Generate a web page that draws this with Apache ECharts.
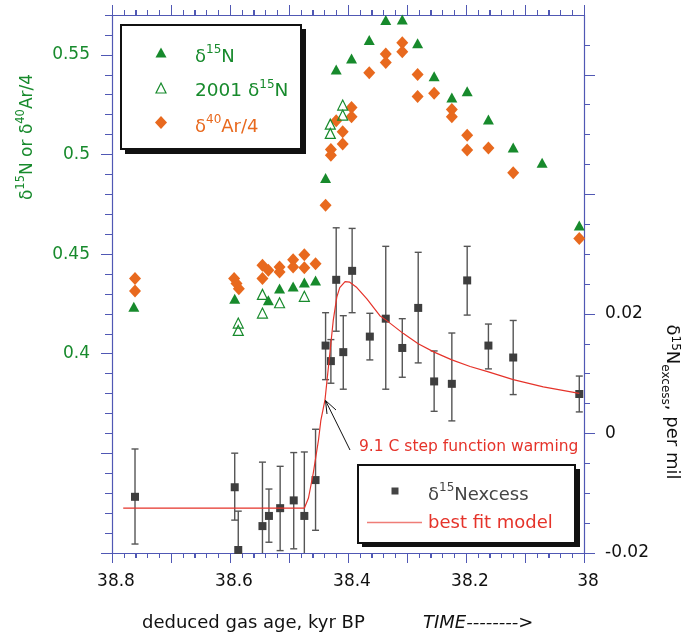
<!DOCTYPE html>
<html><head><meta charset="utf-8">
<script src="https://cdn.jsdelivr.net/npm/echarts@6/dist/echarts.min.js"></script>
<style>html,body{margin:0;padding:0;background:#fff}#c{width:691px;height:637px}</style>
</head><body><div id="c"></div>
<script>
// ---- data ----
const n15Age = [38.763, 38.592, 38.535, 38.516, 38.493, 38.474, 38.455, 38.438, 38.420, 38.394, 38.364, 38.336, 38.308, 38.282, 38.254, 38.224, 38.198, 38.162, 38.120, 38.071, 38.008];
const n15Val = [0.4236, 0.4276, 0.4268, 0.4327, 0.4338, 0.4357, 0.4367, 0.4882, 0.5427, 0.5482, 0.5574, 0.5675, 0.5678, 0.5558, 0.5393, 0.5286, 0.5317, 0.5176, 0.5035, 0.4958, 0.4643];

const n2001Age = [38.586, 38.586, 38.545, 38.545, 38.516, 38.474, 38.430, 38.430, 38.409, 38.409];
const n2001Val = [0.4154, 0.4117, 0.4298, 0.4204, 0.4256, 0.4288, 0.5152, 0.5106, 0.5248, 0.5198];

const arAge = [38.761, 38.761, 38.593, 38.589, 38.585, 38.545, 38.545, 38.535, 38.516, 38.516, 38.493, 38.493, 38.474, 38.474, 38.455, 38.438, 38.429, 38.429, 38.420, 38.409, 38.409, 38.394, 38.394, 38.364, 38.336, 38.336, 38.308, 38.308, 38.282, 38.282, 38.254, 38.224, 38.224, 38.198, 38.198, 38.162, 38.120, 38.008];
const arVal = [0.4377, 0.4315, 0.4377, 0.4352, 0.4326, 0.4444, 0.4377, 0.4419, 0.4435, 0.4410, 0.4472, 0.4435, 0.4497, 0.4432, 0.4452, 0.4745, 0.5025, 0.4996, 0.5169, 0.5114, 0.5052, 0.5236, 0.5189, 0.5410, 0.5504, 0.5462, 0.5561, 0.5516, 0.5402, 0.5291, 0.5307, 0.5226, 0.5189, 0.5097, 0.5022, 0.5033, 0.4908, 0.4578];

const exAge  = [38.761, 38.592, 38.586, 38.545, 38.534, 38.515, 38.492, 38.474, 38.455, 38.438, 38.429, 38.420, 38.408, 38.393, 38.363, 38.336, 38.308, 38.281, 38.254, 38.224, 38.198, 38.162, 38.120, 38.008];
const exVal  = [-0.0106, -0.0090, -0.0195, -0.0155, -0.0138, -0.0125, -0.0112, -0.0138, -0.0078, 0.0147, 0.0121, 0.0257, 0.0136, 0.0272, 0.0162, 0.0192, 0.0143, 0.0210, 0.0087, 0.0083, 0.0256, 0.0147, 0.0127, 0.0066];
const exLow  = [-0.0185, -0.0145, -0.0260, -0.0262, -0.0182, -0.0196, -0.0193, -0.0245, -0.0162, 0.0090, 0.0084, 0.0171, 0.0074, 0.0202, 0.0123, 0.0074, 0.0094, 0.0118, 0.0037, 0.0021, 0.0198, 0.0108, 0.0065, 0.0036];
const exHigh = [-0.0026, -0.0033, -0.0130, -0.0048, -0.0093, -0.0055, -0.0032, -0.0031, 0.0007, 0.0202, 0.0157, 0.0344, 0.0197, 0.0343, 0.0201, 0.0313, 0.0192, 0.0303, 0.0138, 0.0168, 0.0313, 0.0183, 0.0189, 0.0096];

const modelAge = [38.781, 38.474, 38.467, 38.459, 38.450, 38.446, 38.439, 38.425, 38.419, 38.414, 38.405, 38.397, 38.385, 38.368, 38.346, 38.336, 38.306, 38.281, 38.254, 38.224, 38.193, 38.162, 38.120, 38.069, 38.008];
const modelVal = [-0.0125, -0.0125, -0.0108, -0.0067, -0.0011, 0.0022, 0.0056, 0.0189, 0.0228, 0.0244, 0.0254, 0.0253, 0.0244, 0.0225, 0.0197, 0.0190, 0.0167, 0.0150, 0.0136, 0.0123, 0.0112, 0.0103, 0.0090, 0.0078, 0.0067];

// ticks and tick labels
const xMajor = [38.0, 38.1, 38.2, 38.3, 38.4, 38.5, 38.6, 38.7, 38.8];
const xMinor = [38.02,38.04,38.06,38.08,38.12,38.14,38.16,38.18,38.22,38.24,38.26,38.28,38.32,38.34,38.36,38.38,
                38.42,38.44,38.46,38.48,38.52,38.54,38.56,38.58,38.62,38.64,38.66,38.68,38.72,38.74,38.76,38.78];
const xLabelVals = [38.0, 38.2, 38.4, 38.6, 38.8];
const xLabelText = ['38', '38.2', '38.4', '38.6', '38.8'];
const leftMajor = [0.30, 0.35, 0.40, 0.45, 0.50, 0.55];
const leftMinor = [0.31,0.32,0.33,0.34,0.36,0.37,0.38,0.39,0.41,0.42,0.43,0.44,0.46,0.47,0.48,0.49,0.51,0.52,0.53,0.54,0.56,0.57];
const leftLabelVals = [0.40, 0.45, 0.50, 0.55];
const leftLabelText = ['0.4', '0.45', '0.5', '0.55'];
const rightMajor = [-0.02, 0.0, 0.02, 0.04, 0.06];
const rightMinor = [-0.015,-0.01,-0.005,0.005,0.01,0.015,0.025,0.03,0.035,0.045,0.05,0.055,0.065];
const rightLabelVals = [-0.02, 0.0, 0.02];
const rightLabelText = ['-0.02', '0', '0.02'];

// ---- styling ----
const AX = '#5058b4';
const GREEN = '#178a2c';
const ORANGE = '#e8691e';
const RED = '#e5332a';
const FONT = 'DejaVu Sans';

function fmt(vals, texts) {
  return function (v) {
    for (let i = 0; i < vals.length; i++) if (Math.abs(v - vals[i]) < 1e-6) return texts[i];
    return '';
  };
}
const zip = (a, b) => a.map((v, i) => [v, b[i]]);

const chart = echarts.init(document.getElementById('c'), null, {renderer: 'canvas'});

const lineOn = {show: true, onZero: false, lineStyle: {color: AX, width: 1.2}};
const lineOff = {show: false, onZero: false};
const xTick = {show: true, inside: false, length: 10, lineStyle: {color: AX, width: 1}};
const xMinorTick = {show: true, splitNumber: 5, length: 5, lineStyle: {color: AX, width: 1}};
const option = {
  animation: false,
  backgroundColor: '#fff',
  grid: {left: 112, right: 107, top: 15, bottom: 84, containLabel: false},
  xAxis: [
    {type: 'value', min: 38.0, max: 38.8, interval: 0.1, inverse: true, position: 'bottom', splitLine: {show: false},
      axisLine: lineOn, axisTick: xTick, minorTick: xMinorTick,
      axisLabel: {show: true, margin: 20, color: '#111', fontSize: 17, fontFamily: FONT, padding: [0, 0, 0, 8],
        formatter: fmt(xLabelVals, xLabelText), showMinLabel: true, showMaxLabel: true}},
    {type: 'value', min: 38.0, max: 38.8, interval: 0.1, inverse: true, position: 'top', splitLine: {show: false},
      axisLine: lineOn, axisTick: xTick, minorTick: xMinorTick,
      axisLabel: {show: true, color: 'rgba(0,0,0,0)', formatter: () => ''}}
  ],
  yAxis: [
    {type: 'value', position: 'left', min: 0.30, max: 0.57, interval: 0.05, splitLine: {show: false}, axisLine: lineOn,
      axisTick: {show: true, length: 11, customValues: leftMajor, lineStyle: {color: AX}},
      axisLabel: {show: true, customValues: leftLabelVals, margin: 22, color: GREEN, fontSize: 17, fontFamily: FONT,
        formatter: fmt(leftLabelVals, leftLabelText)}},
    {type: 'value', position: 'left', min: 0.30, max: 0.57, interval: 0.01, splitLine: {show: false}, axisLine: lineOff,
      axisTick: {show: true, length: 7, customValues: leftMinor, lineStyle: {color: AX}},
      axisLabel: {show: false}},
    {type: 'value', position: 'right', min: -0.02, max: 0.07, interval: 0.02, splitLine: {show: false}, axisLine: lineOn,
      axisTick: {show: true, length: 11, customValues: rightMajor, lineStyle: {color: AX}},
      axisLabel: {show: true, customValues: rightLabelVals, margin: 21, color: '#111', fontSize: 17, fontFamily: FONT,
        formatter: fmt(rightLabelVals, rightLabelText)}},
    {type: 'value', position: 'right', min: -0.02, max: 0.07, interval: 0.005, splitLine: {show: false}, axisLine: lineOff,
      axisTick: {show: true, length: 6, customValues: rightMinor, lineStyle: {color: AX}},
      axisLabel: {show: false}}
  ],
  series: [
    // x-axis tick marks drawn through the x scale (bottom pointing down, top pointing up)
    {name: 'xticks', type: 'custom', xAxisIndex: 0, yAxisIndex: 0, clip: false, silent: true, z: 1,
      encode: {x: 0, y: 1},
      data: xMajor.map(v => [v, 0.4, 10]).concat(xMinor.map(v => [v, 0.4, 5])),
      renderItem: function (params, api) {
        const cs = params.coordSys;
        const len = api.value(2);
        const x = Math.round(api.coord([api.value(0), api.value(1)])[0]) + 0.5;
        const yb = cs.y + cs.height, yt = cs.y;
        const st = {stroke: AX, lineWidth: 1};
        return {type: 'group', children: [
          {type: 'line', shape: {x1: x, y1: yb, x2: x, y2: yb + len}, style: st},
          {type: 'line', shape: {x1: x, y1: yt, x2: x, y2: yt - len}, style: st}
        ]};
      }},
    {name: 'δ15N', type: 'scatter', xAxisIndex: 0, yAxisIndex: 0, symbol: 'triangle', symbolSize: [11, 10],
      itemStyle: {color: GREEN, opacity: 1}, data: zip(n15Age, n15Val), z: 5},
    {name: '2001 δ15N', type: 'scatter', xAxisIndex: 0, yAxisIndex: 0, symbol: 'triangle', symbolSize: [10, 10],
      itemStyle: {color: 'rgba(255,255,255,0)', borderColor: GREEN, borderWidth: 1.2, opacity: 1}, data: zip(n2001Age, n2001Val), z: 6},
    {name: 'δ40Ar/4', type: 'scatter', xAxisIndex: 0, yAxisIndex: 0, symbol: 'diamond', symbolSize: [12, 13],
      itemStyle: {color: ORANGE, opacity: 1}, data: zip(arAge, arVal), z: 4},
    {name: 'errorbars', type: 'custom', xAxisIndex: 0, yAxisIndex: 2, clip: true,
      encode: {x: 0, y: [1, 2]},
      data: exAge.map((a, i) => [a, exLow[i], exHigh[i]]),
      renderItem: function (params, api) {
        const x = api.value(0);
        const pLo = api.coord([x, api.value(1)]);
        const pHi = api.coord([x, api.value(2)]);
        const w = 3.5;
        const st = {stroke: '#555', lineWidth: 1.4};
        return {type: 'group', children: [
          {type: 'line', shape: {x1: pHi[0], y1: pHi[1], x2: pLo[0], y2: pLo[1]}, style: st},
          {type: 'line', shape: {x1: pHi[0] - w, y1: pHi[1], x2: pHi[0] + w, y2: pHi[1]}, style: st},
          {type: 'line', shape: {x1: pLo[0] - w, y1: pLo[1], x2: pLo[0] + w, y2: pLo[1]}, style: st}
        ]};
      }, z: 3},
    {name: 'δ15Nexcess', type: 'scatter', xAxisIndex: 0, yAxisIndex: 2, symbol: 'rect', symbolSize: 8,
      itemStyle: {color: '#3e3e3e', opacity: 1}, data: zip(exAge, exVal), z: 7},
    {name: 'best fit model', type: 'line', xAxisIndex: 0, yAxisIndex: 2, showSymbol: false, symbol: 'none',
      lineStyle: {color: RED, width: 1.2}, data: zip(modelAge, modelVal), z: 8}
  ],
  graphic: [
    // left legend box
    {type: 'rect', shape: {x: 125, y: 29, width: 181, height: 125}, style: {fill: '#111'}, z: 100},
    {type: 'rect', shape: {x: 121, y: 25, width: 180, height: 124}, style: {fill: '#fff', stroke: '#111', lineWidth: 2}, z: 101},
    {type: 'polygon', shape: {points: [[161, 47.5], [166.5, 57.5], [155.5, 57.5]]}, style: {fill: GREEN}, z: 102},
    {type: 'polygon', shape: {points: [[161, 83], [166, 93], [156, 93]]}, style: {fill: 'none', stroke: GREEN, lineWidth: 1.2}, z: 102},
    {type: 'polygon', shape: {points: [[161, 116], [167, 122.5], [161, 129], [155, 122.5]]}, style: {fill: ORANGE}, z: 102},
    {type: 'text', x: 195, y: 55, z: 102, style: {text: '{b|δ}{s|15}{b|N}', verticalAlign: 'middle', align: 'left',
      rich: {b: {fontSize: 18, fontFamily: FONT, fill: GREEN, lineHeight: 22, verticalAlign: 'bottom'},
             s: {fontSize: 12, fontFamily: FONT, fill: GREEN, lineHeight: 12, verticalAlign: 'top'}}}},
    {type: 'text', x: 195, y: 90, z: 102, style: {text: '{b|2001 δ}{s|15}{b|N}', verticalAlign: 'middle', align: 'left',
      rich: {b: {fontSize: 18.5, fontFamily: FONT, fill: GREEN, lineHeight: 22, verticalAlign: 'bottom'},
             s: {fontSize: 12, fontFamily: FONT, fill: GREEN, lineHeight: 12, verticalAlign: 'top'}}}},
    {type: 'text', x: 195, y: 125, z: 102, style: {text: '{b|δ}{s|40}{b|Ar/4}', verticalAlign: 'middle', align: 'left',
      rich: {b: {fontSize: 18, fontFamily: FONT, fill: ORANGE, lineHeight: 22, verticalAlign: 'bottom'},
             s: {fontSize: 12, fontFamily: FONT, fill: ORANGE, lineHeight: 12, verticalAlign: 'top'}}}},
    // bottom legend box
    {type: 'rect', shape: {x: 362, y: 469, width: 218, height: 78}, style: {fill: '#111'}, z: 100},
    {type: 'rect', shape: {x: 358, y: 465, width: 217, height: 78}, style: {fill: '#fff', stroke: '#111', lineWidth: 2}, z: 101},
    {type: 'rect', shape: {x: 391.5, y: 487.5, width: 7, height: 7}, style: {fill: '#444'}, z: 102},
    {type: 'line', shape: {x1: 367, y1: 522.5, x2: 422, y2: 522.5}, style: {stroke: '#ef7d77', lineWidth: 1.6}, z: 102},
    {type: 'text', x: 428, y: 493, z: 102, style: {text: '{b|δ}{s|15}{b|Nexcess}', verticalAlign: 'middle', align: 'left',
      rich: {b: {fontSize: 18, fontFamily: FONT, fill: '#444', lineHeight: 22, verticalAlign: 'bottom'},
             s: {fontSize: 12, fontFamily: FONT, fill: '#444', lineHeight: 12, verticalAlign: 'top'}}}},
    {type: 'text', x: 428, y: 523, z: 102, style: {text: 'best fit model', verticalAlign: 'middle', align: 'left',
      fontSize: 18, fontFamily: FONT, fill: RED}},
    // annotation
    {type: 'text', x: 359, y: 447, z: 90, style: {text: '9.1 C step function warming', verticalAlign: 'middle', align: 'left',
      fontSize: 15.5, fontFamily: FONT, fill: RED}},
    {type: 'polyline', shape: {points: [[350, 450], [325.5, 400.5]]}, style: {stroke: '#111', lineWidth: 1}, z: 90},
    {type: 'polyline', shape: {points: [[327, 414], [325.5, 400.5], [336, 410]]}, style: {stroke: '#111', lineWidth: 1, fill: 'none'}, z: 90},
    // axis titles
    {type: 'text', x: 142, y: 623, z: 90, style: {text: 'deduced gas age, kyr BP', verticalAlign: 'middle', align: 'left',
      fontSize: 18, fontFamily: FONT, fill: '#111'}},
    {type: 'text', x: 423, y: 623, z: 90, style: {text: 'TIME-------->', verticalAlign: 'middle', align: 'left',
      fontSize: 18, fontFamily: FONT, fontStyle: 'italic', fill: '#111'}},
    {type: 'text', x: 26, y: 137, rotation: Math.PI / 2, z: 90, style: {text: '{b|δ}{s|15}{b|N or δ}{s|40}{b|Ar/4}', verticalAlign: 'middle', align: 'center',
      rich: {b: {fontSize: 17, fontFamily: FONT, fill: GREEN, lineHeight: 21, verticalAlign: 'bottom'},
             s: {fontSize: 11.5, fontFamily: FONT, fill: GREEN, lineHeight: 11, verticalAlign: 'top'}}}},
    {type: 'text', x: 670, y: 402, rotation: -Math.PI / 2, z: 90, style: {text: '{b|δ}{s|15}{b|N}{u|excess}{b|, per mil}', verticalAlign: 'middle', align: 'center',
      rich: {b: {fontSize: 18, fontFamily: FONT, fill: '#111', lineHeight: 22, verticalAlign: 'top'},
             s: {fontSize: 12, fontFamily: FONT, fill: '#111', lineHeight: 12, verticalAlign: 'top'},
             u: {fontSize: 12, fontFamily: FONT, fill: '#111', lineHeight: 12, verticalAlign: 'bottom'}}}}
  ]
};
chart.setOption(option);
</script>
</body></html>
